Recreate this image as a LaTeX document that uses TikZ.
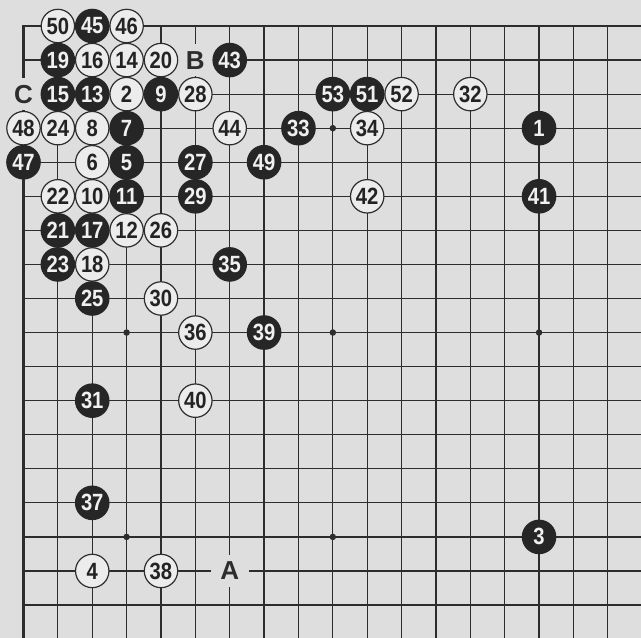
\documentclass[tikz,border=0pt]{standalone}
\usepackage{fontspec}
\setmainfont{Liberation Sans}
\newfontfamily\stonefont[FakeStretch=0.86]{Liberation Sans}
\definecolor{bg}{RGB}{222,222,222}
\definecolor{ln}{RGB}{45,45,45}
\definecolor{bk}{RGB}{38,38,38}
\definecolor{wh}{RGB}{236,236,236}
\tikzset{
  wst/.style={circle, draw=ln, line width=1.2pt, fill=wh, text={rgb,255:red,35;green,35;blue,35}, minimum size=33.4pt, inner sep=0pt, font=\stonefont\fontsize{23.5}{23.5}\selectfont\bfseries},
  bst/.style={circle, draw=bk, line width=1.2pt, fill=bk, text={rgb,255:red,240;green,240;blue,240}, minimum size=33.4pt, inner sep=0pt, font=\stonefont\fontsize{23.5}{23.5}\selectfont\bfseries},
  lbl/.style={fill=bg, text=ln, minimum width=38pt, minimum height=32pt, inner sep=0pt, font=\fontsize{26}{26}\selectfont\bfseries},
  gridline/.style={draw=ln, line width=1.2pt},
  boardedge/.style={draw=ln, line width=2.4pt, line join=miter},
  starpt/.style={circle, fill=ln, minimum size=6.5pt, inner sep=0pt}
}
\begin{document}
\begin{tikzpicture}[x=34.37pt, y=-34.06pt]
  \fill[bg] (0.3163,0.2366) rectangle (18.966,18.968);
  \useasboundingbox (0.3163,0.2366) rectangle (18.966,18.968);
  % grid
  \foreach \c in {2,...,18} \draw[gridline] (\c,1) -- (\c,18.968);
  \foreach \r in {2,...,18} \draw[gridline] (1,\r) -- (18.966,\r);
  \draw[boardedge] (1,18.968) -- (1,1) -- (18.966,1);
  % star points
  \foreach \c/\r [count=\i] in {4/4,10/4,16/4,4/10,10/10,16/10,4/16,10/16,16/16}
    \node[starpt] (hoshi\i) at (\c,\r) {};
  % labels
  \node[lbl] (labA) at (7,17) {A};
  \node[lbl] (labB) at (6,2) {B};
  \node[lbl] (labC) at (1,3) {C};
  % white stones
  \foreach \c/\r/\n in {2/1/50, 4/1/46, 3/2/16, 4/2/14, 5/2/20, 4/3/2, 6/3/28, 12/3/52, 14/3/32,
      1/4/48, 2/4/24, 3/4/8, 7/4/44, 11/4/34, 3/5/6, 2/6/22, 3/6/10, 11/6/42,
      4/7/12, 5/7/26, 3/8/18, 5/9/30, 6/10/36, 6/12/40, 3/17/4, 5/17/38}
    \node[wst] (s\n) at (\c,\r) {\n};
  % black stones
  \foreach \c/\r/\n in {3/1/45, 2/2/19, 7/2/43, 2/3/15, 3/3/13, 5/3/9, 10/3/53, 11/3/51,
      4/4/7, 9/4/33, 16/4/1, 1/5/47, 4/5/5, 6/5/27, 8/5/49, 4/6/11, 6/6/29, 16/6/41,
      2/7/21, 3/7/17, 2/8/23, 7/8/35, 3/9/25, 8/10/39, 3/12/31, 3/15/37, 16/16/3}
    \node[bst] (s\n) at (\c,\r) {\n};
\end{tikzpicture}
\end{document}
